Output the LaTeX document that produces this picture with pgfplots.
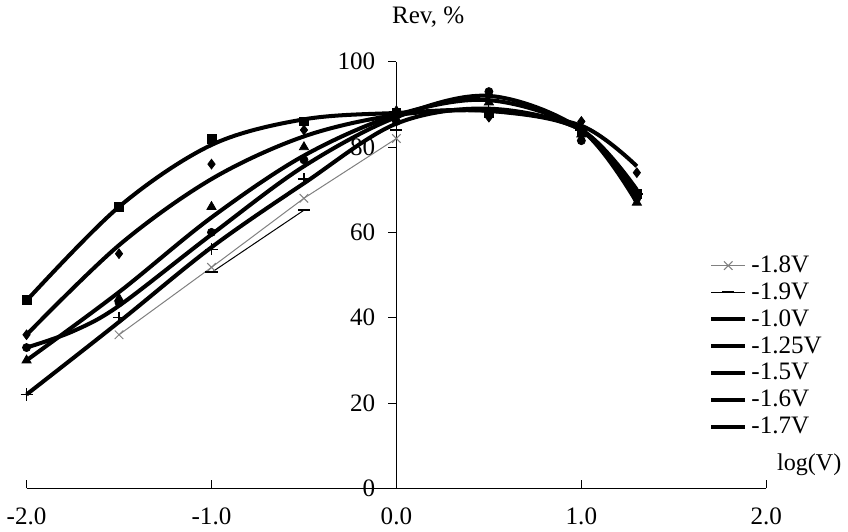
\documentclass[border=0pt]{standalone}
\usepackage{pgfplots}
\pgfplotsset{compat=1.18}
\usepackage{fontspec}
\setmainfont{Liberation Serif}
\begin{document}
\begin{tikzpicture}
\begin{axis}[
    scale only axis,
    width=368.5pt, height=212.5pt,
    xmin=-2, xmax=2, ymin=0, ymax=100,
    axis x line*=bottom, axis y line*=middle,
    axis line style={black, line width=0.5pt},
    hide obscured x ticks=false, hide obscured y ticks=false,
    xtick={-2,-1,0,1,2}, ytick={0,20,...,100},
    /pgf/number format/assume math mode=true,
    x tick label style={/pgf/number format/.cd, fixed, fixed zerofill, precision=1, /tikz/.cd, yshift=-6pt},
    y tick label style={xshift=-3pt},
    xtick align=inside, ytick align=outside,
    major tick length=4pt,
    tick style={black, line width=0.5pt},
    font=\fontsize{12.5}{14}\selectfont,
    clip=false,
    legend cell align=left,
    legend style={draw=none, fill=none, at={(0.914,0.565)}, anchor=north west,
        font=\fontsize{12.5}{14}\selectfont, row sep=-0.4pt},
]

% -1.8V и -1.9V: точки, соединённые тонкой линией
\addplot[gray, line width=0.5pt, mark=x, mark size=3pt] coordinates {(-1.5,36) (-1,51.8) (-0.5,68) (0,82)};
\addlegendentry{-1.8V}
\addplot[black, line width=0.5pt, mark=-, mark size=3pt, mark options={line width=1pt}] coordinates {(-1,50.6) (-0.5,65.2)};
\addlegendentry{-1.9V}

% линии тренда
\addplot[black, line width=2pt, smooth, tension=0.55] coordinates {(-2,36) (-1.5,57) (-1,72.5) (-0.5,82.5) (0,87.5) (0.5,88.5) (1,85) (1.3,75.5)};
\addlegendentry{-1.0V}
\addplot[black, line width=2pt, smooth, tension=0.55] coordinates {(-2,44) (-1.5,66) (-1,80.5) (-0.5,86.5) (0,88) (0.5,88.5) (1,84) (1.3,68.5)};
\addlegendentry{-1.25V}
\addplot[black, line width=2pt, smooth, tension=0.55] coordinates {(-2,30) (-1.5,46) (-1,63.5) (-0.5,78) (0,87.5) (0.5,91) (1,84) (1.3,68)};
\addlegendentry{-1.5V}
\addplot[black, line width=2pt, smooth, tension=0.55] coordinates {(-2,33) (-1.75,36.8) (-1.5,42.8) (-1,59.5) (-0.5,75.5) (0,87) (0.5,92) (1,84) (1.3,67)};
\addlegendentry{-1.6V}
\addplot[black, line width=2pt, smooth, tension=0.55] coordinates {(-2,22) (-1.5,39) (-1,56.5) (-0.5,71.5) (0,85.5) (0.5,89) (1,84) (1.3,70)};
\addlegendentry{-1.7V}

% точки
\addplot[forget plot, only marks, mark=diamond*, mark size=2.4pt, black] coordinates {(-2,36) (-1.5,55) (-1,76) (-0.5,84) (0,88) (0.5,87) (1,86) (1.3,74)};
\addplot[forget plot, only marks, mark=square*, mark size=2.2pt, black] coordinates {(-2,44.2) (-1.5,66) (-1,82) (-0.5,86) (0,88) (0.5,88) (1,83.5) (1.3,69)};
\addplot[forget plot, only marks, mark=triangle*, mark size=2.6pt, black] coordinates {(-2,30) (-1.5,44.5) (-1,66) (-0.5,80) (0,88.5) (0.5,90.5) (1,83) (1.3,67)};
\addplot[forget plot, only marks, mark=*, mark size=2pt, black] coordinates {(-2,33) (-1.5,43.5) (-1,60) (-0.5,77) (0,86) (0.5,93) (1,81.5) (1.3,68)};
\addplot[forget plot, only marks, mark=+, mark size=3pt, black, line width=0.6pt] coordinates {(-2,22) (-1.5,40) (-1,56) (-0.5,72.5) (0,84) (0.5,89) (1,84) (1.3,69)};

\node at (rel axis cs:0.543,1.105) {Rev, \%};
\node[font=\fontsize{12}{14}\selectfont] at (rel axis cs:1.058,0.055) {log(V)};
\end{axis}
\end{tikzpicture}
\end{document}
